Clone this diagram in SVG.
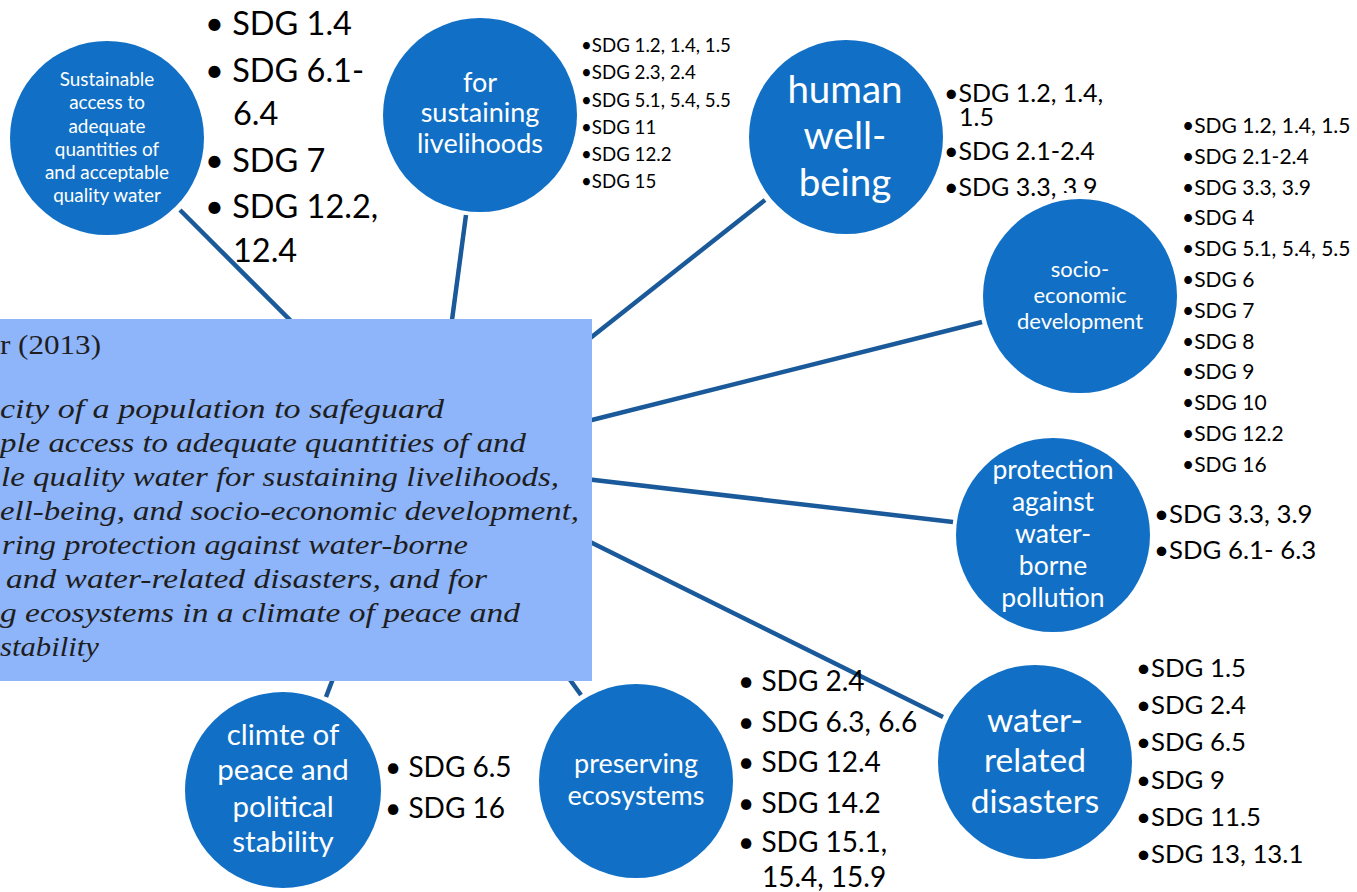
<svg xmlns="http://www.w3.org/2000/svg" width="1357" height="892" viewBox="0 0 1357 892">
<style>
.c{fill:#1170c5}
.ct{font-family:Lato,"Liberation Sans",sans-serif;fill:#fff;text-anchor:middle}
.lt{font-family:Lato,"Liberation Sans",sans-serif;fill:#000}
.bx{font-family:"Liberation Serif",serif;fill:#1e1e1e;font-size:27px;font-style:italic}
.cn line{stroke:#1a5a9a;stroke-width:4.5;fill:none}
</style>
<defs>
<clipPath id="clipC"><path d="M900 0H1357V193H1058V230H900Z"/></clipPath>
</defs>
<rect width="1357" height="892" fill="#fff"/>
<g id="connectors" class="cn">
<line x1="180" y1="210" x2="330" y2="360"/>
<line x1="466" y1="215" x2="448" y2="350"/>
<line x1="765" y1="200" x2="560" y2="362"/>
<line x1="982" y1="322" x2="560" y2="428"/>
<line x1="953" y1="522" x2="560" y2="476"/>
<line x1="943" y1="717" x2="560" y2="527"/>
<line x1="550" y1="652" x2="581" y2="695"/>
<line x1="340" y1="660" x2="326" y2="697"/>
</g>
<g id="center">
<rect x="-2" y="319" width="594" height="362" fill="#8eb4f9"/>
<text x="0" y="354" font-family="Liberation Serif,serif" font-size="27" fill="#1e1e1e" textLength="101" lengthAdjust="spacingAndGlyphs">r (2013)</text>
<text class="bx" x="0" y="418" textLength="444" lengthAdjust="spacingAndGlyphs">city of a population to safeguard</text>
<text class="bx" x="0" y="452" textLength="526" lengthAdjust="spacingAndGlyphs">ple access to adequate quantities of and</text>
<text class="bx" x="1" y="486" textLength="558" lengthAdjust="spacingAndGlyphs">le quality water for sustaining livelihoods,</text>
<text class="bx" x="0" y="520" textLength="579" lengthAdjust="spacingAndGlyphs">ell-being, and socio-economic development,</text>
<text class="bx" x="2" y="554" textLength="466" lengthAdjust="spacingAndGlyphs">ring protection against water-borne</text>
<text class="bx" x="6" y="588" textLength="481" lengthAdjust="spacingAndGlyphs">and water-related disasters, and for</text>
<text class="bx" x="0" y="622" textLength="520" lengthAdjust="spacingAndGlyphs">g ecosystems in a climate of peace and</text>
<text class="bx" x="0" y="656" textLength="99" lengthAdjust="spacingAndGlyphs">stability</text>
</g>
<g id="n-access">
<circle class="c" cx="107" cy="138" r="97"/>
<text class="ct" font-size="18.9"><tspan x="107" y="86">Sustainable</tspan><tspan x="107" y="109">access to</tspan><tspan x="107" y="133">adequate</tspan><tspan x="107" y="156">quantities of</tspan><tspan x="107" y="179">and acceptable</tspan><tspan x="107" y="202">quality water</tspan></text>
<text class="lt" font-size="32.5"><tspan x="205" y="35">• SDG 1.4</tspan><tspan x="205" y="82">• SDG 6.1-</tspan><tspan x="233" y="125">6.4</tspan><tspan x="205" y="172">• SDG 7</tspan><tspan x="205" y="218">• SDG 12.2,</tspan><tspan x="233" y="262">12.4</tspan></text>
</g>
<g id="n-livelihoods">
<circle class="c" cx="480" cy="115" r="97"/>
<text class="ct" font-size="27"><tspan x="480" y="92">for</tspan><tspan x="480" y="122">sustaining</tspan><tspan x="480" y="153">livelihoods</tspan></text>
<text class="lt" font-size="18.7"><tspan x="581" y="52">•SDG 1.2, 1.4, 1.5</tspan><tspan x="581" y="79">•SDG 2.3, 2.4</tspan><tspan x="581" y="107">•SDG 5.1, 5.4, 5.5</tspan><tspan x="581" y="134">•SDG 11</tspan><tspan x="581" y="161">•SDG 12.2</tspan><tspan x="581" y="188">•SDG 15</tspan></text>
</g>
<g id="n-wellbeing">
<circle class="c" cx="846" cy="137" r="97"/>
<text class="ct" font-size="38.5"><tspan x="845" y="103">human</tspan><tspan x="845" y="149">well-</tspan><tspan x="845" y="196">being</tspan></text>
<text class="lt" font-size="25" clip-path="url(#clipC)"><tspan x="944" y="102">•SDG 1.2, 1.4,</tspan><tspan x="959" y="126">1.5</tspan><tspan x="944" y="160">•SDG 2.1-2.4</tspan><tspan x="944" y="196">•SDG 3.3, 3.9</tspan></text>
</g>
<g id="n-socio">
<circle class="c" cx="1080" cy="296" r="97"/>
<text class="ct" font-size="22"><tspan x="1080" y="277">socio-</tspan><tspan x="1080" y="303">economic</tspan><tspan x="1080" y="329">development</tspan></text>
<text class="lt" font-size="21"><tspan x="1182" y="133">•SDG 1.2, 1.4, 1.5</tspan><tspan x="1182" y="164">•SDG 2.1-2.4</tspan><tspan x="1182" y="195">•SDG 3.3, 3.9</tspan><tspan x="1182" y="225">•SDG 4</tspan><tspan x="1182" y="256">•SDG 5.1, 5.4, 5.5</tspan><tspan x="1182" y="287">•SDG 6</tspan><tspan x="1182" y="318">•SDG 7</tspan><tspan x="1182" y="349">•SDG 8</tspan><tspan x="1182" y="379">•SDG 9</tspan><tspan x="1182" y="410">•SDG 10</tspan><tspan x="1182" y="441">•SDG 12.2</tspan><tspan x="1182" y="472">•SDG 16</tspan></text>
</g>
<g id="n-protection">
<circle class="c" cx="1053" cy="535" r="97"/>
<text class="ct" font-size="26.5"><tspan x="1053" y="479">protection</tspan><tspan x="1053" y="511">against</tspan><tspan x="1053" y="543">water-</tspan><tspan x="1053" y="575">borne</tspan><tspan x="1053" y="607">pollution</tspan></text>
<text class="lt" font-size="25.8"><tspan x="1154" y="523">•SDG 3.3, 3.9</tspan><tspan x="1154" y="559">•SDG 6.1- 6.3</tspan></text>
</g>
<g id="n-disasters">
<circle class="c" cx="1035" cy="762" r="97"/>
<text class="ct" font-size="33.5"><tspan x="1035" y="732">water-</tspan><tspan x="1035" y="772">related</tspan><tspan x="1035" y="813">disasters</tspan></text>
<text class="lt" font-size="25.8"><tspan x="1136" y="677">•SDG 1.5</tspan><tspan x="1136" y="714">•SDG 2.4</tspan><tspan x="1136" y="751">•SDG 6.5</tspan><tspan x="1136" y="789">•SDG 9</tspan><tspan x="1136" y="826">•SDG 11.5</tspan><tspan x="1136" y="863">•SDG 13, 13.1</tspan></text>
</g>
<g id="n-ecosystems">
<circle class="c" cx="636" cy="781" r="97"/>
<text class="ct" font-size="27"><tspan x="636" y="773">preserving</tspan><tspan x="636" y="805">ecosystems</tspan></text>
<text class="lt" font-size="28"><tspan x="738" y="691">• SDG 2.4</tspan><tspan x="738" y="732">• SDG 6.3, 6.6</tspan><tspan x="738" y="772">• SDG 12.4</tspan><tspan x="738" y="813">• SDG 14.2</tspan><tspan x="738" y="852">• SDG 15.1,</tspan><tspan x="762" y="887">15.4, 15.9</tspan></text>
</g>
<g id="n-peace">
<circle class="c" cx="283" cy="790" r="98"/>
<text class="ct" font-size="29.5"><tspan x="283" y="745">climte of</tspan><tspan x="283" y="780">peace and</tspan><tspan x="283" y="817">political</tspan><tspan x="283" y="852">stability</tspan></text>
<text class="lt" font-size="28"><tspan x="385" y="777">• SDG 6.5</tspan><tspan x="385" y="818">• SDG 16</tspan></text>
</g>
</svg>
